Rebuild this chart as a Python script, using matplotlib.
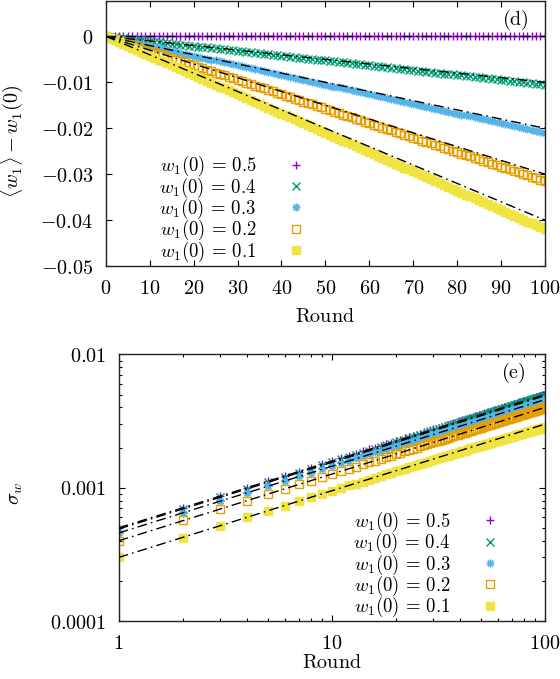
import matplotlib
matplotlib.use("Agg")
import matplotlib.pyplot as plt
import numpy as np

plt.rcParams["mathtext.fontset"] = "cm"
plt.rcParams["font.family"] = "serif"
plt.rcParams["font.serif"] = ["DejaVu Serif"]

# ---- data ----
labels = ["0.5", "0.4", "0.3", "0.2", "0.1"]
colors = ["#9400d3", "#009e73", "#56b4e9", "#e69f00", "#f0e442"]

# panel (d): <w1> - w1(0), rounds 0..100, values in units of 1e-4
rounds_d = list(range(0, 101))
drift_05 = [0.0] * 101
drift_04 = [0.0, -1.1, -2.1, -3.2, -4.2, -5.3, -6.3, -7.4, -8.4, -9.5, -10.5,
            -11.6, -12.6, -13.7, -14.7, -15.8, -16.8, -17.9, -18.9, -20.0, -21.0,
            -22.1, -23.1, -24.2, -25.2, -26.3, -27.3, -28.4, -29.4, -30.5, -31.5,
            -32.6, -33.6, -34.7, -35.7, -36.8, -37.8, -38.9, -39.9, -41.0, -42.0,
            -43.1, -44.1, -45.2, -46.2, -47.3, -48.3, -49.4, -50.4, -51.5, -52.5,
            -53.6, -54.6, -55.7, -56.7, -57.8, -58.8, -59.9, -60.9, -62.0, -63.0,
            -64.1, -65.1, -66.2, -67.2, -68.3, -69.3, -70.4, -71.4, -72.5, -73.5,
            -74.6, -75.6, -76.7, -77.7, -78.8, -79.8, -80.9, -81.9, -83.0, -84.0,
            -85.1, -86.1, -87.2, -88.2, -89.3, -90.3, -91.4, -92.4, -93.5, -94.5,
            -95.6, -96.6, -97.7, -98.7, -99.8, -100.8, -101.9, -102.9, -104.0, -105.0]
drift_03 = [0.0, -2.1, -4.2, -6.3, -8.4, -10.5, -12.6, -14.7, -16.8, -18.9, -21.0,
            -23.1, -25.2, -27.3, -29.4, -31.5, -33.6, -35.7, -37.8, -39.9, -42.0,
            -44.1, -46.2, -48.3, -50.4, -52.5, -54.6, -56.7, -58.8, -60.9, -63.0,
            -65.1, -67.2, -69.3, -71.4, -73.5, -75.6, -77.7, -79.8, -81.9, -84.0,
            -86.1, -88.2, -90.3, -92.4, -94.5, -96.6, -98.7, -100.8, -102.9, -105.0,
            -107.1, -109.2, -111.3, -113.4, -115.5, -117.6, -119.7, -121.8, -123.9, -126.0,
            -128.1, -130.2, -132.3, -134.4, -136.5, -138.6, -140.7, -142.8, -144.9, -147.0,
            -149.1, -151.2, -153.3, -155.4, -157.5, -159.6, -161.7, -163.8, -165.9, -168.0,
            -170.1, -172.2, -174.3, -176.4, -178.5, -180.6, -182.7, -184.8, -186.9, -189.0,
            -191.1, -193.2, -195.3, -197.4, -199.5, -201.6, -203.7, -205.8, -207.9, -210.0]
drift_02 = [0.0, -3.2, -6.3, -9.5, -12.6, -15.8, -18.9, -22.1, -25.2, -28.4, -31.5,
            -34.7, -37.8, -41.0, -44.1, -47.3, -50.4, -53.6, -56.7, -59.9, -63.0,
            -66.2, -69.3, -72.5, -75.6, -78.8, -81.9, -85.1, -88.2, -91.4, -94.5,
            -97.7, -100.8, -104.0, -107.1, -110.3, -113.4, -116.6, -119.7, -122.9, -126.0,
            -129.2, -132.3, -135.5, -138.6, -141.8, -144.9, -148.1, -151.2, -154.4, -157.5,
            -160.7, -163.8, -167.0, -170.1, -173.3, -176.4, -179.6, -182.7, -185.9, -189.0,
            -192.2, -195.3, -198.5, -201.6, -204.8, -207.9, -211.1, -214.2, -217.4, -220.5,
            -223.7, -226.8, -230.0, -233.1, -236.3, -239.4, -242.6, -245.7, -248.9, -252.0,
            -255.2, -258.3, -261.5, -264.6, -267.8, -270.9, -274.1, -277.2, -280.4, -283.5,
            -286.7, -289.8, -293.0, -296.1, -299.3, -302.4, -305.6, -308.7, -311.9, -315.0]
drift_01 = [0.0, -4.2, -8.4, -12.6, -16.8, -21.0, -25.2, -29.4, -33.6, -37.8, -42.0,
            -46.2, -50.4, -54.6, -58.8, -63.0, -67.2, -71.4, -75.6, -79.8, -84.0,
            -88.2, -92.4, -96.6, -100.8, -105.0, -109.2, -113.4, -117.6, -121.8, -126.0,
            -130.2, -134.4, -138.6, -142.8, -147.0, -151.2, -155.4, -159.6, -163.8, -168.0,
            -172.2, -176.4, -180.6, -184.8, -189.0, -193.2, -197.4, -201.6, -205.8, -210.0,
            -214.2, -218.4, -222.6, -226.8, -231.0, -235.2, -239.4, -243.6, -247.8, -252.0,
            -256.2, -260.4, -264.6, -268.8, -273.0, -277.2, -281.4, -285.6, -289.8, -294.0,
            -298.2, -302.4, -306.6, -310.8, -315.0, -319.2, -323.4, -327.6, -331.8, -336.0,
            -340.2, -344.4, -348.6, -352.8, -357.0, -361.2, -365.4, -369.6, -373.8, -378.0,
            -382.2, -386.4, -390.6, -394.8, -399.0, -403.2, -407.4, -411.6, -415.8, -420.0]
# theory lines (d): value at round 0 and round 100
theory_d_rounds = [0, 100]
theory_d_end = [0.0, -0.010, -0.020, -0.030, -0.040]

# panel (e): sigma_w, rounds 1..100, values in units of 1e-4
rounds_e = list(range(1, 101))
sig_05 = [5.0, 7.1, 8.7, 10.0, 11.2, 12.2, 13.2, 14.1, 15.0, 15.8,
          16.6, 17.3, 18.0, 18.7, 19.4, 20.0, 20.6, 21.2, 21.8, 22.4,
          22.9, 23.5, 24.0, 24.5, 25.0, 25.5, 26.0, 26.5, 26.9, 27.4,
          27.8, 28.3, 28.7, 29.2, 29.6, 30.0, 30.4, 30.8, 31.2, 31.6,
          32.0, 32.4, 32.8, 33.2, 33.5, 33.9, 34.3, 34.6, 35.0, 35.4,
          35.7, 36.1, 36.4, 36.7, 37.1, 37.4, 37.7, 38.1, 38.4, 38.7,
          39.1, 39.4, 39.7, 40.0, 40.3, 40.6, 40.9, 41.2, 41.5, 41.8,
          42.1, 42.4, 42.7, 43.0, 43.3, 43.6, 43.9, 44.2, 44.4, 44.7,
          45.0, 45.3, 45.6, 45.8, 46.1, 46.4, 46.6, 46.9, 47.2, 47.4,
          47.7, 48.0, 48.2, 48.5, 48.7, 49.0, 49.2, 49.5, 49.7, 50.0]
sig_04 = [4.9, 6.9, 8.5, 9.8, 11.0, 12.0, 13.0, 13.9, 14.7, 15.5,
          16.3, 17.0, 17.7, 18.3, 19.0, 19.6, 20.2, 20.8, 21.4, 21.9,
          22.5, 23.0, 23.5, 24.0, 24.5, 25.0, 25.5, 25.9, 26.4, 26.8,
          27.3, 27.7, 28.2, 28.6, 29.0, 29.4, 29.8, 30.2, 30.6, 31.0,
          31.4, 31.8, 32.1, 32.5, 32.9, 33.2, 33.6, 34.0, 34.3, 34.7,
          35.0, 35.3, 35.7, 36.0, 36.3, 36.7, 37.0, 37.3, 37.6, 38.0,
          38.3, 38.6, 38.9, 39.2, 39.5, 39.8, 40.1, 40.4, 40.7, 41.0,
          41.3, 41.6, 41.9, 42.2, 42.4, 42.7, 43.0, 43.3, 43.6, 43.8,
          44.1, 44.4, 44.6, 44.9, 45.2, 45.4, 45.7, 46.0, 46.2, 46.5,
          46.8, 47.0, 47.3, 47.5, 47.8, 48.0, 48.3, 48.5, 48.8, 49.0]
sig_03 = [4.6, 6.5, 8.0, 9.2, 10.3, 11.3, 12.2, 13.0, 13.8, 14.5,
          15.3, 15.9, 16.6, 17.2, 17.8, 18.4, 19.0, 19.5, 20.1, 20.6,
          21.1, 21.6, 22.1, 22.5, 23.0, 23.5, 23.9, 24.3, 24.8, 25.2,
          25.6, 26.0, 26.4, 26.8, 27.2, 27.6, 28.0, 28.4, 28.7, 29.1,
          29.5, 29.8, 30.2, 30.5, 30.9, 31.2, 31.5, 31.9, 32.2, 32.5,
          32.9, 33.2, 33.5, 33.8, 34.1, 34.4, 34.7, 35.0, 35.3, 35.6,
          35.9, 36.2, 36.5, 36.8, 37.1, 37.4, 37.7, 37.9, 38.2, 38.5,
          38.8, 39.0, 39.3, 39.6, 39.8, 40.1, 40.4, 40.6, 40.9, 41.1,
          41.4, 41.7, 41.9, 42.2, 42.4, 42.7, 42.9, 43.2, 43.4, 43.6,
          43.9, 44.1, 44.4, 44.6, 44.8, 45.1, 45.3, 45.5, 45.8, 46.0]
sig_02 = [4.0, 5.7, 6.9, 8.0, 8.9, 9.8, 10.6, 11.3, 12.0, 12.6,
          13.3, 13.9, 14.4, 15.0, 15.5, 16.0, 16.5, 17.0, 17.4, 17.9,
          18.3, 18.8, 19.2, 19.6, 20.0, 20.4, 20.8, 21.2, 21.5, 21.9,
          22.3, 22.6, 23.0, 23.3, 23.7, 24.0, 24.3, 24.7, 25.0, 25.3,
          25.6, 25.9, 26.2, 26.5, 26.8, 27.1, 27.4, 27.7, 28.0, 28.3,
          28.6, 28.8, 29.1, 29.4, 29.7, 29.9, 30.2, 30.5, 30.7, 31.0,
          31.2, 31.5, 31.7, 32.0, 32.2, 32.5, 32.7, 33.0, 33.2, 33.5,
          33.7, 33.9, 34.2, 34.4, 34.6, 34.9, 35.1, 35.3, 35.6, 35.8,
          36.0, 36.2, 36.4, 36.7, 36.9, 37.1, 37.3, 37.5, 37.7, 37.9,
          38.2, 38.4, 38.6, 38.8, 39.0, 39.2, 39.4, 39.6, 39.8, 40.0]
sig_01 = [3.0, 4.2, 5.2, 6.0, 6.7, 7.3, 7.9, 8.5, 9.0, 9.5,
          9.9, 10.4, 10.7, 11.1, 11.5, 11.9, 12.3, 12.6, 12.9, 13.3,
          13.6, 13.9, 14.2, 14.5, 14.8, 15.1, 15.4, 15.7, 15.9, 16.1,
          16.4, 16.7, 16.9, 17.2, 17.4, 17.7, 17.9, 18.1, 18.3, 18.6,
          18.8, 19.0, 19.3, 19.5, 19.7, 19.8, 20.1, 20.3, 20.5, 20.7,
          20.9, 21.0, 21.2, 21.4, 21.6, 21.8, 22.0, 22.1, 22.3, 22.5,
          22.7, 22.9, 23.0, 23.2, 23.4, 23.6, 23.8, 23.9, 24.0, 24.2,
          24.4, 24.6, 24.7, 24.8, 25.0, 25.2, 25.3, 25.5, 25.6, 25.7,
          25.9, 26.1, 26.2, 26.3, 26.5, 26.6, 26.8, 26.9, 27.0, 27.2,
          27.3, 27.5, 27.6, 27.7, 27.8, 28.0, 28.1, 28.2, 28.3, 28.5]
# theory lines (e): value at round 1 and round 100
theory_e_rounds = [1, 100]
theory_e_start = [5.0e-4, 4.9e-4, 4.58e-4, 4.0e-4, 3.0e-4]
theory_e_end = [5.0e-3, 4.9e-3, 4.58e-3, 4.0e-3, 3.0e-3]

drift = [drift_05, drift_04, drift_03, drift_02, drift_01]
sigma = [sig_05, sig_04, sig_03, sig_02, sig_01]

# ---- style ----
markers = ["+", "x", (8, 2, 0), "s", "s"]
fills = [None, None, None, "none", None]
FS = 14.5
LFS = 13.5


def m(s):
    return "$" + s + "$"


fig = plt.figure(figsize=(5.6, 6.79), dpi=100)
ax1 = fig.add_axes([0.189, 0.6082, 0.784, 0.391])
ax2 = fig.add_axes([0.212, 0.0854, 0.761, 0.3926])

dash = (0, (7, 3, 1.2, 3))

for i in range(5):
    kw = dict(color=colors[i], marker=markers[i], linestyle="none",
              markersize=5.5, markeredgewidth=1.0,
              label=m(r"w_1(0)\,=\,") + m(labels[i]))
    if fills[i] == "none":
        kw["markerfacecolor"] = "none"
    ax1.plot(rounds_d, np.array(drift[i]) * 1e-4, zorder=2, **kw)
    ax2.plot(rounds_e, np.array(sigma[i]) * 1e-4, zorder=2, **kw)

for i in range(5):
    ax1.plot(theory_d_rounds, [0.0, theory_d_end[i]], color="black", lw=1.0,
             linestyle=dash, zorder=3)
    ax2.plot(theory_e_rounds, [theory_e_start[i], theory_e_end[i]], color="black",
             lw=1.0, linestyle=dash, zorder=3)

# panel (d) axes
ax1.set_xlim(0, 100)
ax1.set_ylim(-0.05, 0.0078)
xt = [0, 10, 20, 30, 40, 50, 60, 70, 80, 90, 100]
ax1.set_xticks(xt)
ax1.set_xticklabels([m(str(v)) for v in xt])
yt = [0, -0.01, -0.02, -0.03, -0.04, -0.05]
ax1.set_yticks(yt)
ax1.set_yticklabels([m("0")] + [m("-" + f"{-v:.2f}") for v in yt[1:]])
ax1.set_xlabel(m(r"\mathrm{Round}"), fontsize=FS)
ax1.set_ylabel(m(r"\langle w_1 \rangle - w_1(0)"), fontsize=FS)
ax1.xaxis.set_label_coords(0.5, -0.155)
ax1.yaxis.set_label_coords(-0.185, 0.47)
ax1.text(0.932, 0.928, m(r"\mathrm{(d)}"), transform=ax1.transAxes,
         ha="center", va="center", fontsize=FS)

# panel (e) axes
ax2.set_xscale("log")
ax2.set_yscale("log")
ax2.set_xlim(1, 100)
ax2.set_ylim(1e-4, 1e-2)
ax2.set_xticks([1, 10, 100])
ax2.set_xticklabels([m("1"), m("10"), m("100")])
ax2.set_yticks([1e-4, 1e-3, 1e-2])
ax2.set_yticklabels([m("0.0001"), m("0.001"), m("0.01")])
ax2.set_xlabel(m(r"\mathrm{Round}"), fontsize=FS)
ax2.set_ylabel(m(r"\sigma_w"), fontsize=FS)
ax2.xaxis.set_label_coords(0.5, -0.12)
ax2.yaxis.set_label_coords(-0.22, 0.48)
ax2.text(0.925, 0.931, m(r"\mathrm{(e)}"), transform=ax2.transAxes,
         ha="center", va="center", fontsize=FS)

for ax in (ax1, ax2):
    ax.tick_params(which="both", direction="in", top=True, right=True,
                   labelsize=FS, pad=9.0)
    ax.tick_params(which="major", length=4.5, width=0.8)
    ax.tick_params(which="minor", length=2.5, width=0.8)
    for sp in ax.spines.values():
        sp.set_linewidth(1.0)
        sp.set_color("#222222")

leg_kw = dict(frameon=False, markerfirst=False, numpoints=1, handlelength=1.0,
              handletextpad=1.6, labelspacing=-0.15, borderpad=0.0, fontsize=LFS,
              loc="center right")
ax1.legend(bbox_to_anchor=(0.475, 0.215), **leg_kw)
ax2.legend(bbox_to_anchor=(0.915, 0.212), **leg_kw)

fig.savefig("out.png", dpi=100)
